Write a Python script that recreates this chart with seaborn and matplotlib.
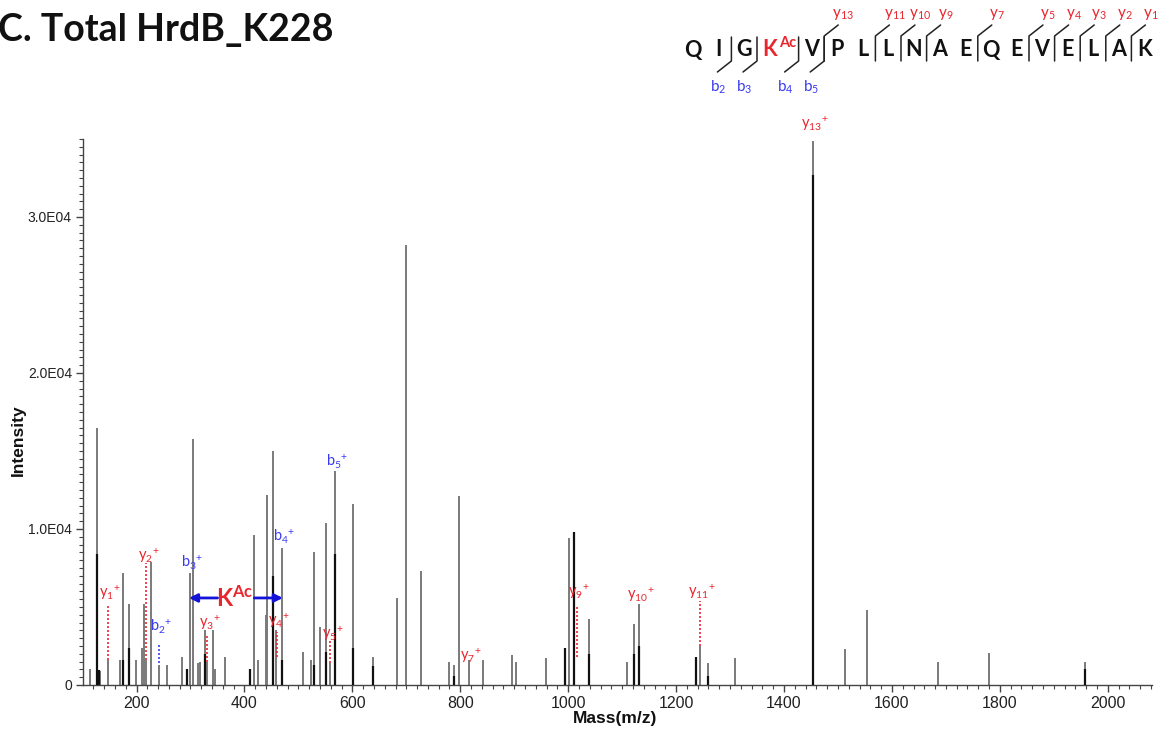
import matplotlib
matplotlib.use("Agg")
import matplotlib.pyplot as plt
from matplotlib.lines import Line2D
from matplotlib.ticker import MultipleLocator, FuncFormatter
import seaborn as sns
import pandas as pd

# ---------------- data ----------------
peak_mz = [113.7, 126.2, 132.0, 147.1, 169.0, 174.4, 186.0, 198.5, 211.0, 214.0,
           218.2, 227.0, 242.2, 256.0, 283.7, 294.0, 299.5, 305.2, 314.0, 318.0,
           327.0, 331.2, 342.3, 346.0, 364.0, 410.0, 417.7, 425.7, 440.0, 442.4,
           452.4, 458.0, 470.0, 509.0, 523.4, 529.5, 540.0, 551.2, 559.3, 567.9,
           601.8, 639.0, 682.0, 698.8, 727.3, 779.2, 788.4, 798.3, 816.4, 842.7,
           895.4, 902.8, 958.0, 994.0, 1002.0, 1011.0, 1039.0, 1109.0, 1122.0, 1130.6,
           1236.0, 1243.7, 1259.0, 1309.0, 1453.8, 1513.0, 1553.0, 1686.0, 1779.0, 1957.0]
peak_int = [1000, 16500, 900, 1600, 1600, 7200, 5200, 1600, 2400, 5200,
            1600, 7900, 1300, 1300, 1800, 1000, 7200, 15800, 1400, 1500,
            3500, 1500, 3500, 1000, 1800, 1000, 9600, 1600, 4500, 12200,
            15000, 3500, 8800, 2100, 1600, 8500, 3700, 10400, 1400, 13700,
            11600, 1800, 5600, 28200, 7300, 1500, 1300, 12100, 1600, 1600,
            1900, 1500, 1750, 2400, 9400, 9800, 4200, 1500, 3900, 5200,
            1800, 2500, 1400, 1700, 34900, 2300, 4800, 1500, 2050, 1500]

dark_mz = [126.2, 130.0, 174.4, 186.0, 294.0, 327.0, 410.0, 452.4, 470.0, 529.5,
           551.2, 567.9, 601.8, 639.0, 788.4, 994.0, 1011.0, 1039.0, 1122.0, 1130.6,
           1236.0, 1259.0, 1453.8, 1957.0]
dark_int = [8400, 950, 1600, 2400, 1000, 2000, 1000, 7000, 1600, 1300,
            2100, 8400, 2400, 1200, 600, 2400, 9800, 2000, 2000, 2500,
            1800, 600, 32700, 1000]

ion_names = ["y1", "y2", "b2", "b3", "y3", "y4", "b4", "y5", "b5", "y7", "y9", "y10", "y11", "y13"]
ion_mz = [147.11, 218.15, 242.15, 299.17, 331.23, 460.28, 469.28, 559.35, 568.35,
          816.45, 1016.53, 1130.57, 1243.65, 1453.79]
ion_label_int = [5900, 8300, 3700, 7800, 4000, 4100, 9500, 3300, 14300, 1900, 6000, 5800, 6000, 36000]
ion_line_top = [5200, 7800, 2700, None, 3300, 3400, None, 2900, None, None, 5100, None, 5400, None]
ion_line_bottom = [1600, 1600, 1400, None, 1500, 1800, None, 1400, None, None, 1800, None, 2500, None]

kac_left_mz, kac_right_mz, kac_int = 299.17, 469.28, 5580

residues = ["Q", "I", "G", "K", "V", "P", "L", "L", "N", "A", "E", "Q", "E", "V", "E", "L", "A", "K"]
mod_index = 3
b_sites = [2, 3, 4, 5]
y_sites = [13, 11, 10, 9, 7, 5, 4, 3, 2, 1]

title = "C. Total HrdB_K228"

# ---------------- style ----------------
sns.set_style("ticks")
plt.rcParams["font.family"] = ["Liberation Sans", "DejaVu Sans"]
plt.rcParams["mathtext.fontset"] = "custom"
plt.rcParams["mathtext.rm"] = "Lato"
plt.rcParams["mathtext.it"] = "Lato:italic"
plt.rcParams["mathtext.bf"] = "Lato:bold"

RED = "#e8262e"
BLUE = "#3a3af2"

W, H = 1164, 734
fig = plt.figure(figsize=(W / 100, H / 100), dpi=100)
ax = fig.add_axes([83 / W, 1 - 685 / H, (1152 - 83) / W, (685 - 139) / H])

df = pd.DataFrame({"mz": peak_mz, "intensity": peak_int})
dfd = pd.DataFrame({"mz": dark_mz, "intensity": dark_int})
ax.vlines(df["mz"], 0, df["intensity"], color="#7a7a7a", lw=1.4, zorder=2)
ax.vlines(dfd["mz"], 0, dfd["intensity"], color="#111111", lw=1.6, zorder=3)

ax.set_xlim(100.8, 2082)
ax.set_ylim(0, 35000)

ax.xaxis.set_major_locator(MultipleLocator(200))
ax.xaxis.set_minor_locator(MultipleLocator(20))
ax.yaxis.set_major_locator(MultipleLocator(10000))
ax.yaxis.set_minor_locator(MultipleLocator(500))
ax.yaxis.set_major_formatter(FuncFormatter(lambda v, p: "0" if v == 0 else f"{v/1e4:.1f}E04"))
ax.xaxis.set_major_formatter(FuncFormatter(lambda v, p: "" if v < 200 else f"{int(v)}"))
ax.tick_params(axis="both", which="major", direction="out", length=5, width=1, color="#444")
ax.tick_params(axis="both", which="minor", direction="out", length=3, width=0.8, color="#444")
ax.tick_params(axis="x", labelsize=11.5, labelcolor="#222", pad=3)
ax.tick_params(axis="y", labelsize=10, labelcolor="#222", pad=3)
sns.despine(ax=ax)
for s in ("left", "bottom"):
    ax.spines[s].set_color("#444")
    ax.spines[s].set_linewidth(1.0)

# ion annotations
for name, m, li, lt, lb in zip(ion_names, ion_mz, ion_label_int, ion_line_top, ion_line_bottom):
    col = RED if name.startswith("y") else BLUE
    letter, num = name[0], name[1:]
    ax.text(m + 4, li, f"{letter}$_{{{num}}}{{}}^{{+}}$", color=col, fontsize=10.5, family="Lato",
            ha="center", va="center", clip_on=False, zorder=5)
    if lt is not None:
        ax.vlines(m, lb, lt, color=col, lw=1.2, linestyles=(0, (1.2, 1.2)), zorder=4)

# K(Ac) mass difference arrow
kac_mid = (kac_left_mz + kac_right_mz) / 2
arrow_kw = dict(arrowstyle="-|>", color="#1414d8", lw=2, mutation_scale=12, shrinkA=0, shrinkB=0)
ax.annotate("", xy=(kac_left_mz - 2, kac_int), xytext=(kac_mid - 34, kac_int),
            arrowprops=arrow_kw, zorder=6)
ax.annotate("", xy=(kac_right_mz + 2, kac_int), xytext=(kac_mid + 34, kac_int),
            arrowprops=arrow_kw, zorder=6)
ax.text(kac_mid - 2, kac_int, r"K$^{\mathbf{Ac}}$", color=RED, fontsize=17, fontweight="bold",
        family="Lato", ha="center", va="center", zorder=6)

# axis labels
fig.text(18 / W, 1 - 440 / H, "Intensity", rotation=90, fontsize=12.5, fontweight="bold",
         ha="center", va="center", color="#111")
fig.text(615 / W, 1 - 718 / H, "Mass(m/z)", fontsize=12.5, fontweight="bold",
         ha="center", va="center", color="#111")

# title
fig.text(-2 / W, 1 - 30 / H, title, fontsize=27, fontweight="bold", family="Lato",
         ha="left", va="center", color="#111")

# sequence with fragment marks
def fx(px):
    return px / W

def fy(py):
    return 1 - py / H

letter_x = [693 + 25.6 * i + (16 if i > mod_index else 0) for i in range(len(residues))]
for i, r in enumerate(residues):
    col = RED if i == mod_index else "#111"
    fig.text(fx(letter_x[i]), fy(50), r, fontsize=15.5, fontweight="bold", family="Lato",
             ha="center", va="center", color=col)
    if i == mod_index:
        fig.text(fx(letter_x[i] + 9), fy(43), "Ac", fontsize=10.5, fontweight="bold",
                 family="Lato", ha="left", va="center", color=RED)

def site_x(k):
    # cleavage between residue k-1 and k
    return (letter_x[k - 1] + letter_x[k]) / 2 + (8 if k == mod_index + 1 else 0)

n = len(residues)
for b in b_sites:
    x = site_x(b)
    fig.add_artist(Line2D([fx(x), fx(x), fx(x - 14)], [fy(37), fy(61), fy(72)],
                          transform=fig.transFigure, color="#222", lw=1.1))
    fig.text(fx(x - 13), fy(87), f"b$_{{{b}}}$", fontsize=11, family="Lato",
             ha="center", va="center", color=BLUE)
for y in y_sites:
    x = site_x(n - y)
    fig.add_artist(Line2D([fx(x), fx(x), fx(x + 14)], [fy(61), fy(36), fy(25)],
                          transform=fig.transFigure, color="#222", lw=1.1))
    fig.text(fx(x + 19), fy(14), f"y$_{{{y}}}$", fontsize=11, family="Lato",
             ha="center", va="center", color=RED)

fig.savefig("out.png", dpi=100)
